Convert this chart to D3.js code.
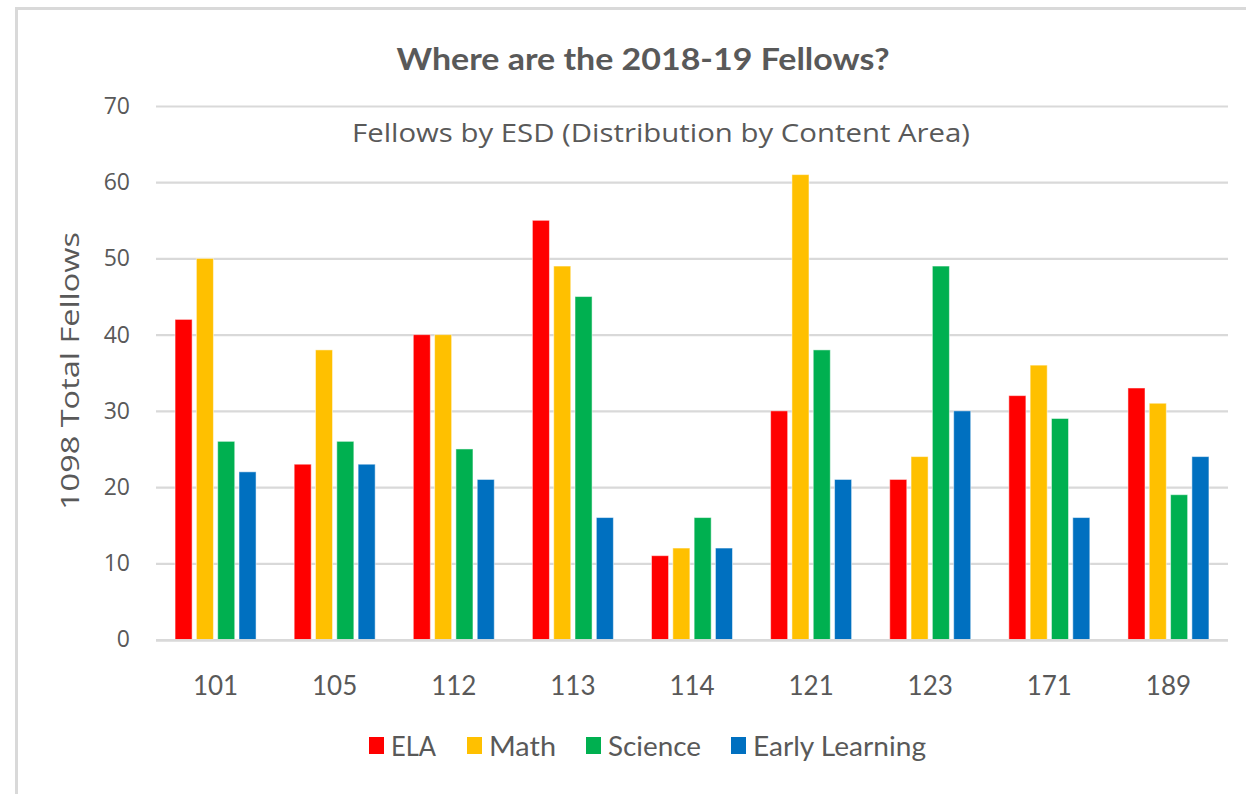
<!DOCTYPE html>
<html>
<head>
<meta charset="utf-8">
<script src="https://cdn.jsdelivr.net/npm/d3@7/dist/d3.min.js"></script>
<style>
  html, body { margin: 0; padding: 0; background: #fff; }
  svg { display: block; }
</style>
</head>
<body>
<svg id="chart" width="1246" height="794"></svg>
<script>
const categories = ["101", "105", "112", "113", "114", "121", "123", "171", "189"];
const seriesNames = ["ELA", "Math", "Science", "Early Learning"];
const ela = [42, 23, 40, 55, 11, 30, 21, 32, 33];
const math = [50, 38, 40, 49, 12, 61, 24, 36, 31];
const science = [26, 26, 25, 45, 16, 38, 49, 29, 19];
const earlyLearning = [22, 23, 21, 16, 12, 21, 30, 16, 24];
const yTicks = [0, 10, 20, 30, 40, 50, 60, 70];
const colors = ["#FF0000", "#FFC000", "#00B050", "#0070C0"];

const seriesValues = [ela, math, science, earlyLearning];
const rows = categories.map((c, i) => ({
  cat: c,
  vals: seriesNames.map((s, j) => ({ series: s, idx: j, value: seriesValues[j][i] }))
}));

const svg = d3.select("#chart");

// frame lines (top and left)
svg.append("line").attr("x1", 16.5).attr("x2", 1246).attr("y1", 8.5).attr("y2", 8.5)
  .attr("stroke", "#d9d9d9").attr("stroke-width", 3);
svg.append("line").attr("x1", 16.5).attr("x2", 16.5).attr("y1", 7).attr("y2", 794)
  .attr("stroke", "#d9d9d9").attr("stroke-width", 3);

const x0 = d3.scaleBand().domain(categories).range([156, 1228]).paddingInner(0.32).paddingOuter(0.16);
const x1 = d3.scaleBand().domain(seriesNames).range([0, x0.bandwidth()]).paddingInner(0.2).paddingOuter(0);
const y = d3.scaleLinear().domain([0, 70]).range([639.5, 106]);

// gridlines
const yAxis = d3.axisLeft(y).tickValues(yTicks).tickSize(-(1228 - 156)).tickFormat(d3.format("d"));
const gy = svg.append("g").attr("transform", "translate(156,0)").call(yAxis);
gy.select(".domain").remove();
gy.selectAll(".tick line").attr("stroke", "#d9d9d9").attr("stroke-width", 2.2);
gy.selectAll(".tick text")
  .attr("x", -26)
  .attr("fill", "#595959")
  .style("font-family", "'Open Sans', sans-serif")
  .style("font-size", "23px");

// subtitle (sits between 70 and 60 gridlines)
svg.append("text")
  .attr("x", 661).attr("y", 142)
  .attr("text-anchor", "middle")
  .attr("fill", "#595959")
  .attr("textLength", 618).attr("lengthAdjust", "spacingAndGlyphs")
  .style("font-family", "'Open Sans', sans-serif")
  .style("font-size", "25px")
  .text("Fellows by ESD (Distribution by Content Area)");

// title
svg.append("text")
  .attr("x", 643).attr("y", 70)
  .attr("text-anchor", "middle")
  .attr("fill", "#595959")
  .attr("textLength", 493).attr("lengthAdjust", "spacingAndGlyphs")
  .style("font-family", "Lato, sans-serif")
  .style("font-weight", "bold")
  .style("font-size", "31px")
  .text("Where are the 2018-19 Fellows?");

// bars
const groups = svg.append("g").selectAll("g").data(rows).join("g")
  .attr("transform", d => `translate(${x0(d.cat)},0)`);
groups.selectAll("rect").data(d => d.vals).join("rect")
  .attr("x", d => x1(d.series))
  .attr("y", d => y(d.value))
  .attr("width", x1.bandwidth())
  .attr("height", d => y(0) - y(d.value))
  .attr("fill", d => colors[d.idx])
  .attr("stroke", "#ffffff")
  .attr("stroke-opacity", 0.5)
  .attr("stroke-width", 1);

// baseline
svg.append("line").attr("x1", 156).attr("x2", 1228).attr("y1", y(0) + 1).attr("y2", y(0) + 1)
  .attr("stroke", "#d9d9d9").attr("stroke-width", 2.5);

// x axis labels
const xAxis = d3.axisBottom(x0).tickSize(0).tickPadding(0);
const gx = svg.append("g").attr("transform", `translate(0,${y(0)})`).call(xAxis);
gx.select(".domain").remove();
gx.selectAll(".tick text")
  .attr("y", 55)
  .attr("dy", 0)
  .attr("fill", "#595959")
  .style("font-family", "Lato, sans-serif")
  .style("font-size", "26px");

// y axis title
svg.append("text")
  .attr("transform", "translate(79,371) rotate(-90)")
  .attr("text-anchor", "middle")
  .attr("fill", "#595959")
  .attr("textLength", 278).attr("lengthAdjust", "spacingAndGlyphs")
  .style("font-family", "'Open Sans', sans-serif")
  .style("font-size", "25px")
  .text("1098 Total Fellows");

// legend
const legendItems = [
  { name: seriesNames[0], sx: 369, tx: 391, tw: 45 },
  { name: seriesNames[1], sx: 467, tx: 489, tw: 67 },
  { name: seriesNames[2], sx: 586, tx: 608, tw: 93 },
  { name: seriesNames[3], sx: 731, tx: 753, tw: 173 }
];
const lg = svg.append("g").selectAll("g").data(legendItems).join("g");
lg.append("rect")
  .attr("x", d => d.sx).attr("y", 737)
  .attr("width", 15).attr("height", 17)
  .attr("fill", (d, i) => colors[i]);
lg.append("text")
  .attr("x", d => d.tx).attr("y", 756)
  .attr("fill", "#595959")
  .attr("textLength", d => d.tw).attr("lengthAdjust", "spacingAndGlyphs")
  .style("font-family", "Lato, sans-serif")
  .style("font-size", "27px")
  .text(d => d.name);
</script>
</body>
</html>
